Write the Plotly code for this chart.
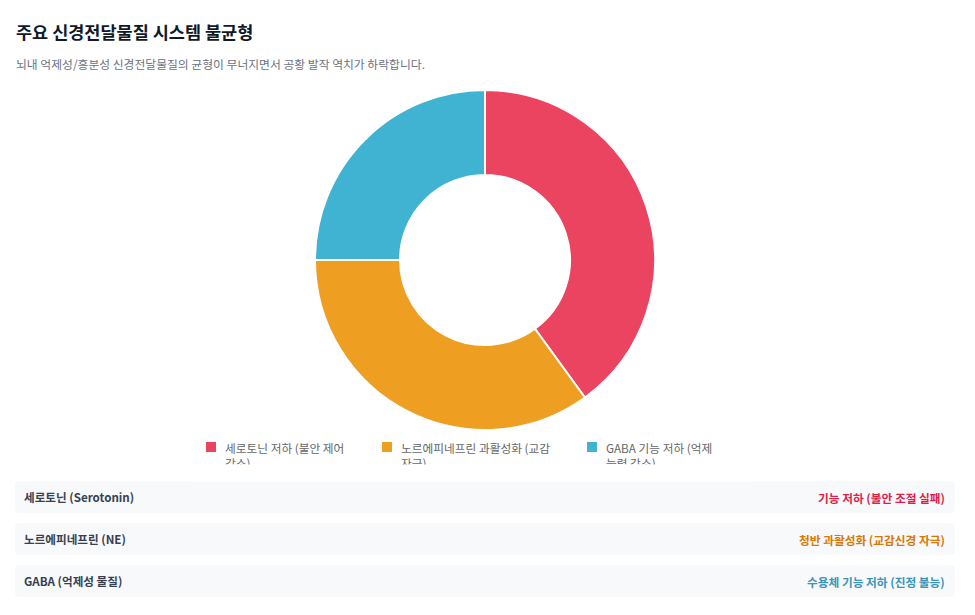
import plotly.graph_objects as go

# page body adds an 8px margin, so work in page pixels and shift back
OFF = 8
W, H = 975 - OFF, 615 - OFF

title = "주요 신경전달물질 시스템 불균형"
subtitle = "뇌내 억제성/흥분성 신경전달물질의 균형이 무너지면서 공황 발작 역치가 하락합니다."

labels = ["세로토닌 저하 (불안 제어 감소)", "노르에피네프린 과활성화 (교감 자극)", "GABA 기능 저하 (억제 능력 감소)"]
legend_lines = [["세로토닌 저하 (불안 제어", "감소)"],
                ["노르에피네프린 과활성화 (교감", "자극)"],
                ["GABA 기능 저하 (억제", "능력 감소)"]]
values = [40, 35, 25]
colors = ["#ea4461", "#ee9f22", "#40b3d3"]

card_left = ["세로토닌 (Serotonin)", "노르에피네프린 (NE)", "GABA (억제성 물질)"]
card_right = ["기능 저하 (불안 조절 실패)", "청반 과활성화 (교감신경 자극)", "수용체 기능 저하 (진정 불능)"]
card_colors = ["#e11d48", "#d97706", "#3a94b8"]

FONT = "Noto Sans CJK KR"


def px(x):
    return (x - OFF) / W


def py(y):
    return 1 - (y - OFF) / H


def rounded_rect(x0, y0, x1, y1, r):
    # path in paper coords, rounded corners
    X0, X1 = px(x0), px(x1)
    Y0, Y1 = py(y0), py(y1)
    rx, ry = r / W, r / H
    return (f"M{X0+rx},{Y0} L{X1-rx},{Y0} Q{X1},{Y0} {X1},{Y0-ry} "
            f"L{X1},{Y1+ry} Q{X1},{Y1} {X1-rx},{Y1} L{X0+rx},{Y1} "
            f"Q{X0},{Y1} {X0},{Y1+ry} L{X0},{Y0-ry} Q{X0},{Y0} {X0+rx},{Y0} Z")


fig = go.Figure()
fig.add_trace(go.Pie(
    labels=labels, values=values, hole=0.5, sort=False, direction="clockwise", rotation=0,
    marker=dict(colors=colors, line=dict(color="white", width=2)),
    textinfo="none", hoverinfo="label+percent", showlegend=False,
    domain=dict(x=[px(315), px(655)], y=[py(430), py(90)]),
))

annotations = []
shapes = []

annotations.append(dict(x=px(14), y=py(31), xref="paper", yref="paper", xanchor="left", yanchor="middle",
                        text=f"<b>{title}</b>", showarrow=False,
                        font=dict(family=FONT, size=17.5, color="#111827")))
annotations.append(dict(x=px(14), y=py(63), xref="paper", yref="paper", xanchor="left", yanchor="middle",
                        text=subtitle, showarrow=False,
                        font=dict(family=FONT, size=11.8, color="#6b7280")))

# legend (manual so the wrapped second line can be clipped like the original)
leg_x = [206, 382, 587]
for i in range(3):
    shapes.append(dict(type="rect", xref="paper", yref="paper",
                       x0=px(leg_x[i]), x1=px(leg_x[i] + 10), y0=py(452), y1=py(442),
                       fillcolor=colors[i], line=dict(width=0)))
    annotations.append(dict(x=px(leg_x[i] + 17), y=py(437), xref="paper", yref="paper",
                            xanchor="left", yanchor="top", align="left",
                            text="<br>".join(legend_lines[i]), showarrow=False,
                            font=dict(family=FONT, size=11.7, color="#666666")))
annotations.append(dict(x=px(190), y=py(464), xref="paper", yref="paper", xanchor="left", yanchor="top",
                        text=" ", showarrow=False, width=560, height=14, bgcolor="white",
                        font=dict(size=6)))

# cards
for i in range(3):
    top = 481 + i * 42
    shapes.append(dict(type="path", xref="paper", yref="paper",
                       path=rounded_rect(15, top, 955, top + 32, 5),
                       fillcolor="#f8f9fb", line=dict(width=0), layer="below"))
    annotations.append(dict(x=px(22), y=py(top + 16), xref="paper", yref="paper",
                            xanchor="left", yanchor="middle", text=f"<b>{card_left[i]}</b>",
                            showarrow=False, font=dict(family=FONT, size=11.6, color="#374151")))
    annotations.append(dict(x=px(947), y=py(top + 16), xref="paper", yref="paper",
                            xanchor="right", yanchor="middle", text=f"<b>{card_right[i]}</b>",
                            showarrow=False, font=dict(family=FONT, size=11.7, color=card_colors[i])))

fig.update_layout(
    width=W, height=H, margin=dict(l=0, r=0, t=0, b=0),
    paper_bgcolor="white", plot_bgcolor="white",
    font=dict(family=FONT),
    annotations=annotations, shapes=shapes,
)

fig.write_html("out.html")
